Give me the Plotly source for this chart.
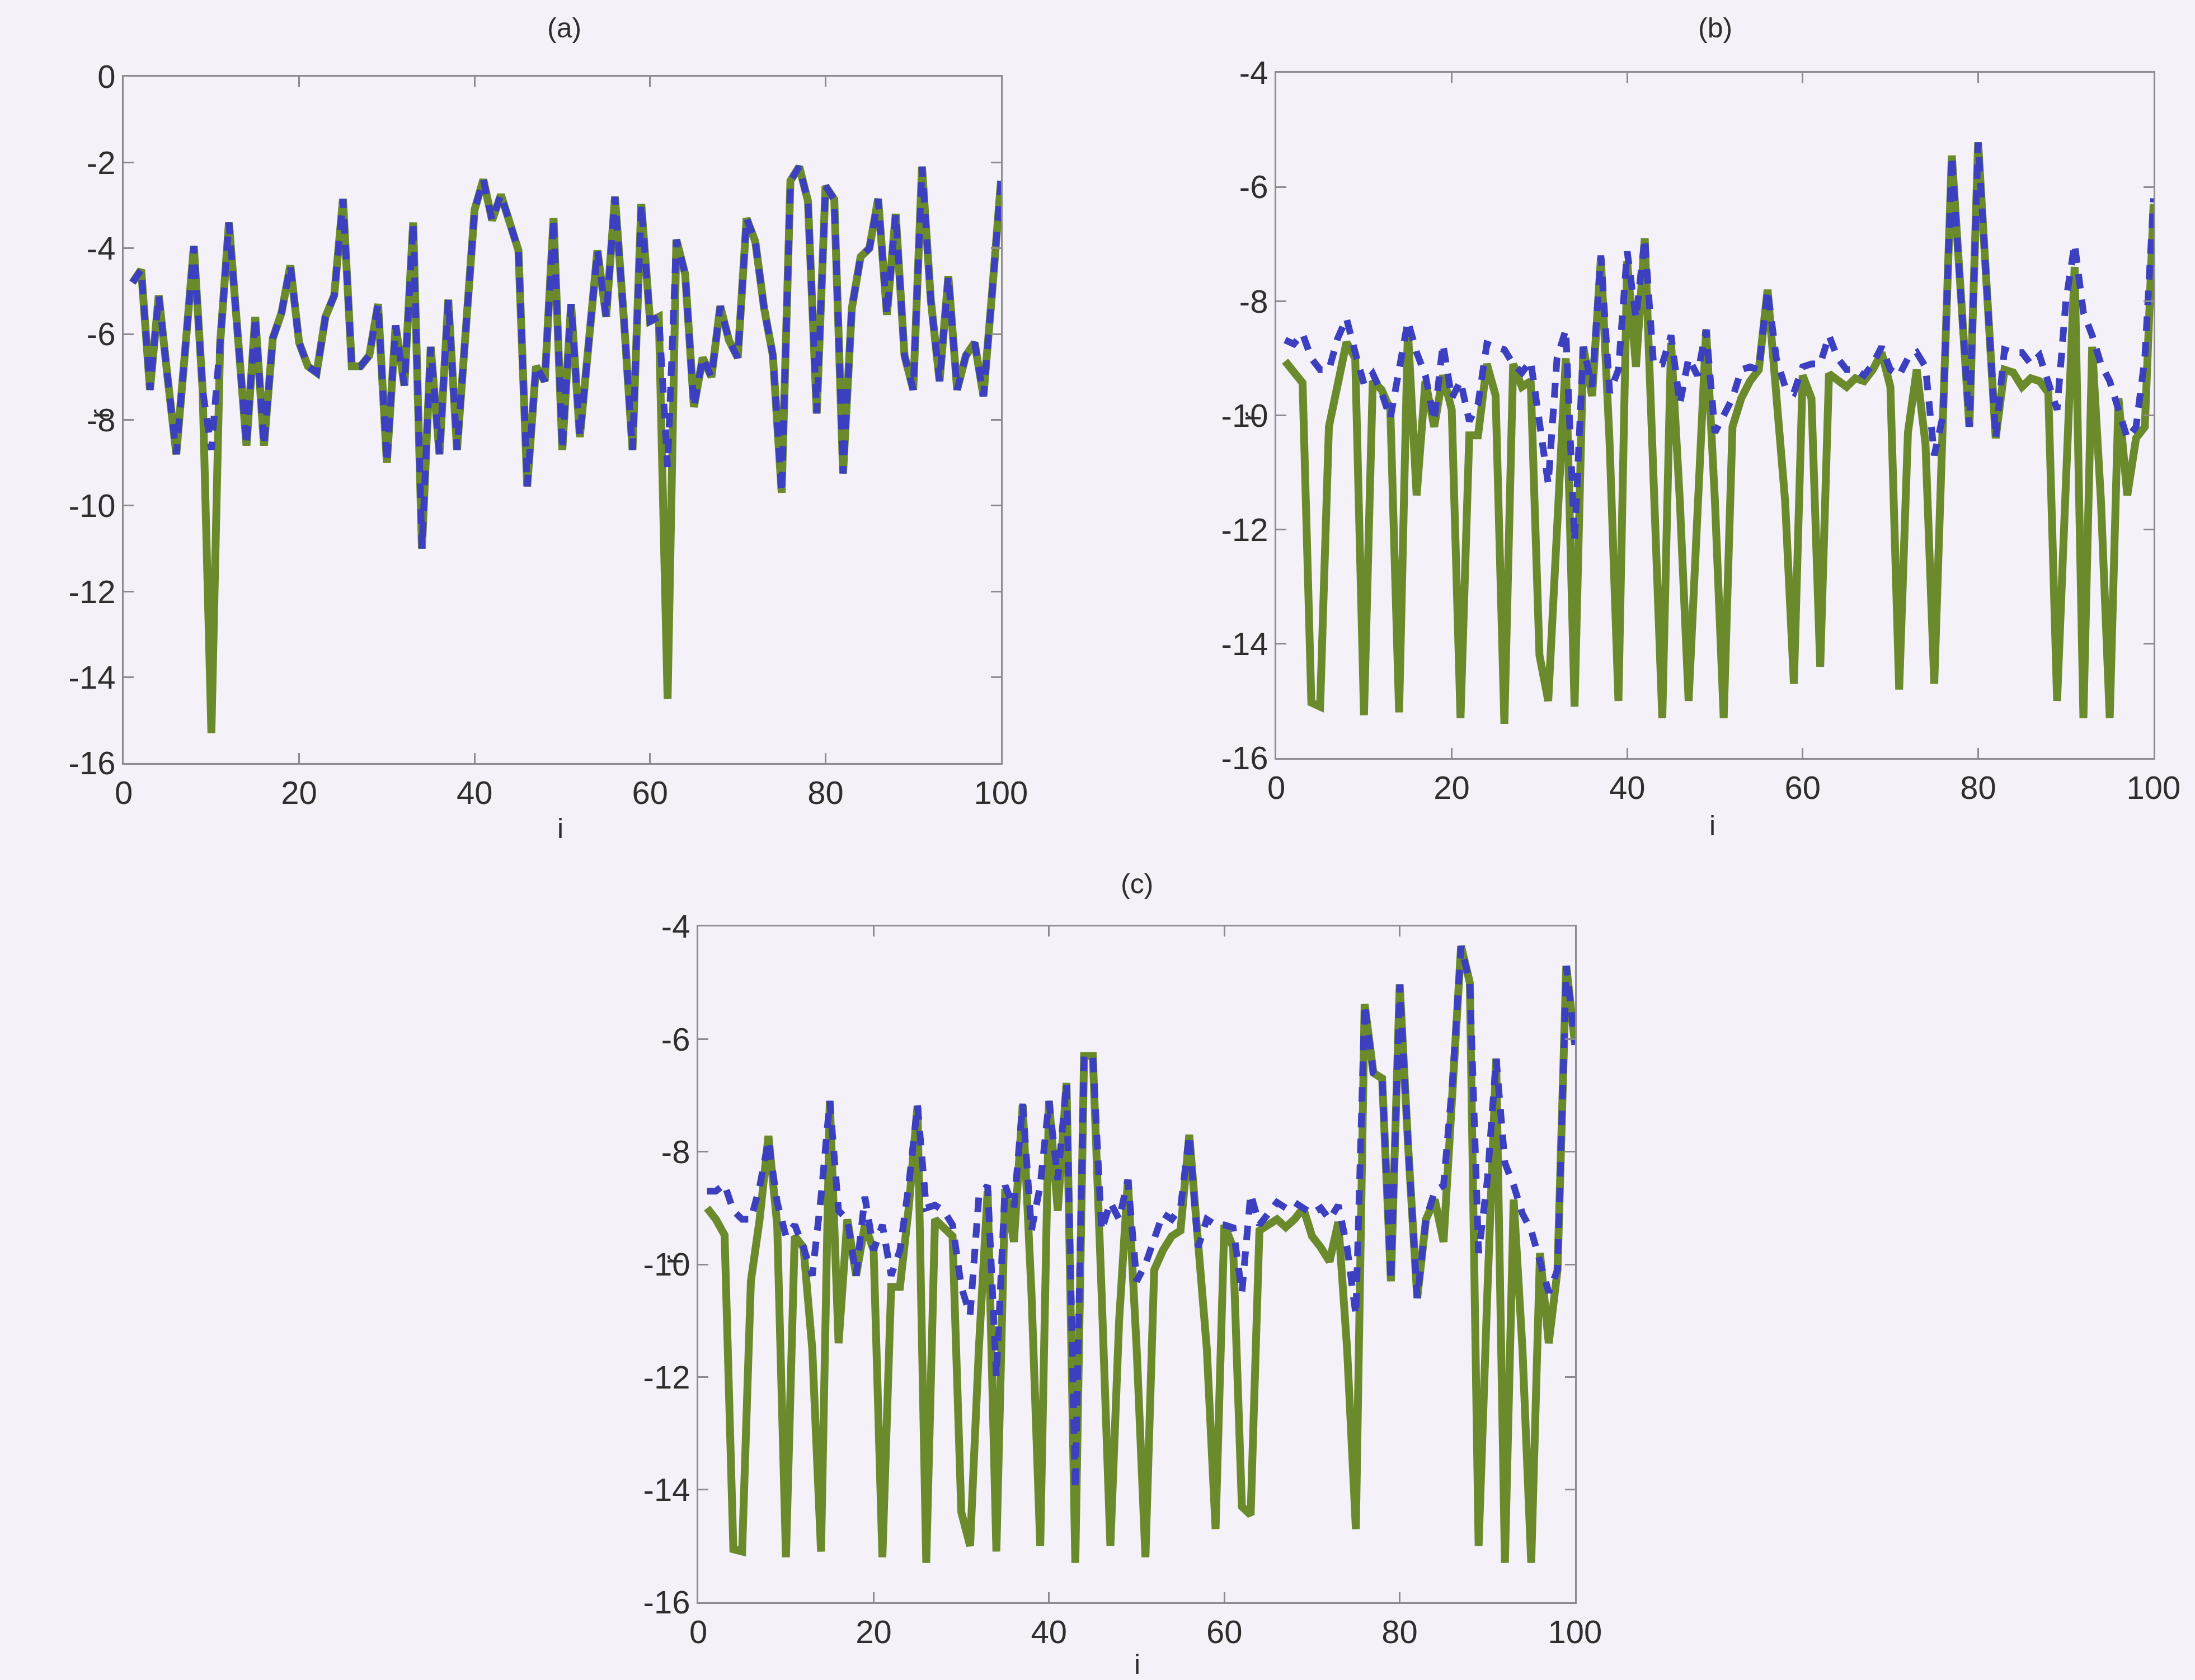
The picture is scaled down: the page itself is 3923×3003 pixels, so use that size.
import plotly.graph_objects as go

# ---------------- data ----------------
idx = list(range(1, 101))

a_green = [-4.8, -4.5, -7.3, -5.1, -7.0, -8.8, -6.4, -3.95, -7.3, -15.3,
           -6.2, -3.4, -6.0, -8.6, -5.6, -8.6, -6.1, -5.5, -4.4, -6.2,
           -6.75, -6.9, -5.6, -5.1, -2.85, -6.75, -6.75, -6.5, -5.3, -9.0,
           -5.8, -7.2, -3.4, -11.0, -6.3, -8.8, -5.2, -8.7, -5.9, -3.1,
           -2.4, -3.35, -2.75, -3.45, -4.05, -9.55, -6.75, -7.1, -3.3, -8.7,
           -5.3, -8.4, -6.05, -4.05, -5.6, -2.8, -5.6, -8.7, -2.97, -5.7,
           -5.6, -14.5, -3.8, -4.6, -7.7, -6.55, -7.0, -5.35, -6.15, -6.55,
           -3.3, -3.85, -5.4, -6.5, -9.7, -2.43, -2.1, -2.9, -7.85, -2.55,
           -2.86, -9.25, -5.4, -4.2, -4.0, -2.85, -5.55, -3.2, -6.5, -7.3,
           -2.1, -5.2, -7.1, -4.65, -7.3, -6.5, -6.2, -7.45, -5.0, -2.43]

a_blue = [-4.8, -4.5, -7.3, -5.1, -7.0, -8.8, -6.4, -3.95, -7.3, -8.7,
          -6.2, -3.4, -6.0, -8.6, -5.6, -8.6, -6.1, -5.5, -4.4, -6.2,
          -6.75, -6.9, -5.6, -5.1, -2.85, -6.75, -6.75, -6.5, -5.3, -9.0,
          -5.8, -7.2, -3.4, -11.0, -6.3, -8.8, -5.2, -8.7, -5.9, -3.1,
          -2.4, -3.35, -2.75, -3.45, -4.05, -9.55, -6.75, -7.1, -3.3, -8.7,
          -5.3, -8.4, -6.05, -4.05, -5.6, -2.8, -5.6, -8.7, -2.97, -5.7,
          -5.6, -9.1, -3.8, -4.6, -7.7, -6.55, -7.0, -5.35, -6.15, -6.55,
          -3.3, -3.85, -5.4, -6.5, -9.7, -2.43, -2.1, -2.9, -7.85, -2.55,
          -2.86, -9.25, -5.4, -4.2, -4.0, -2.85, -5.55, -3.2, -6.5, -7.3,
          -2.1, -5.2, -7.1, -4.65, -7.3, -6.5, -6.2, -7.45, -5.0, -2.43]

b_green = [-9.05, -9.25, -9.43, -15.03, -15.1, -10.2, -9.45, -8.72, -9.0, -15.25,
           -9.4, -9.55, -9.9, -15.2, -8.5, -11.4, -9.4, -10.2, -9.3, -9.9,
           -15.3, -10.35, -10.35, -9.1, -9.65, -15.4, -9.1, -9.5, -9.4, -14.2,
           -15.0, -12.0, -9.0, -15.1, -8.8, -9.66, -7.25, -10.5, -15.0, -7.3,
           -9.15, -6.9, -11.0, -15.3, -8.73, -11.5, -15.0, -11.5, -8.5, -11.5,
           -15.3, -10.2, -9.7, -9.4, -9.2, -7.8, -9.5, -11.5, -14.7, -9.3,
           -9.7, -14.4, -9.27, -9.4, -9.5, -9.35, -9.4, -9.2, -8.9, -9.5,
           -14.8, -10.3, -9.2, -10.5, -14.7, -10.0, -5.45, -7.8, -10.2, -5.22,
           -7.8, -10.4, -9.2, -9.25, -9.5, -9.35, -9.4, -9.6, -15.0, -11.0,
           -7.4, -15.3, -8.8, -11.5, -15.3, -9.7, -11.4, -10.4, -10.2, -6.3]

b_blue = [-8.68, -8.75, -8.57, -9.0, -9.2, -9.2, -8.65, -8.3, -8.9, -9.45,
          -9.27, -9.6, -10.05, -9.2, -8.35, -8.9, -9.3, -10.1, -8.75, -9.7,
          -9.4, -10.1, -9.8, -8.75, -8.8, -8.85, -9.1, -9.25, -9.05, -10.1,
          -11.2, -9.0, -8.5, -12.2, -8.8, -9.5, -7.2, -9.6, -9.2, -7.13,
          -8.3, -6.9, -9.1, -9.1, -8.6, -9.8, -9.0, -9.3, -8.5, -10.3,
          -10.0, -9.7, -9.2, -9.15, -9.2, -7.8, -9.0, -9.5, -9.6, -9.15,
          -9.1, -9.1, -8.6, -9.0, -9.2, -9.2, -9.3, -9.1, -8.8, -9.2,
          -9.3, -9.0, -8.9, -9.15, -10.7, -10.0, -5.45, -7.8, -10.2, -5.22,
          -7.8, -10.4, -8.85, -8.9, -8.9, -9.1, -8.95, -9.4, -9.9, -8.0,
          -7.0, -8.2, -8.6, -9.1, -9.4, -9.9, -10.4, -10.2, -9.0, -6.2]

c_green = [-9.0, -9.2, -9.48, -15.06, -15.1, -10.3, -9.2, -7.72, -9.3, -15.2,
           -9.5, -9.7, -11.5, -15.1, -7.1, -11.4, -9.2, -10.2, -9.3, -9.75,
           -15.2, -10.4, -10.4, -9.0, -7.2, -15.3, -9.2, -9.35, -9.5, -14.4,
           -15.0, -11.5, -8.7, -15.1, -8.66, -9.6, -7.17, -10.5, -15.0, -7.1,
           -9.05, -6.78, -15.3, -6.3, -6.3, -10.5, -15.0, -11.0, -8.5, -11.5,
           -15.2, -10.1, -9.75, -9.5, -9.4, -7.7, -9.5, -11.5, -14.7, -9.3,
           -9.7, -14.3, -14.45, -9.4, -9.3, -9.2, -9.34, -9.2, -9.0, -9.5,
           -9.7, -9.95, -9.25, -11.5, -14.7, -5.38, -6.6, -6.7, -10.3, -5.03,
           -8.0, -10.6, -9.2, -8.85, -9.6, -7.0, -4.35, -5.0, -15.0, -10.5,
           -6.35, -15.3, -8.85, -11.5, -15.3, -9.8, -11.4, -10.1, -4.7, -6.1]

c_blue = [-8.7, -8.7, -8.58, -9.05, -9.2, -9.2, -8.62, -7.8, -8.9, -9.5,
          -9.3, -9.7, -10.2, -8.8, -7.1, -9.05, -9.2, -10.2, -8.8, -9.75,
          -9.3, -10.2, -9.75, -8.6, -7.17, -9.0, -8.95, -9.05, -9.3, -10.4,
          -10.9, -8.8, -8.6, -12.0, -8.6, -9.0, -7.15, -9.4, -8.6, -7.1,
          -8.5, -6.78, -14.0, -6.3, -6.3, -9.4, -8.9, -9.2, -8.5, -10.3,
          -10.0, -9.5, -9.1, -9.2, -9.0, -7.7, -9.7, -9.2, -9.3, -9.3,
          -9.35, -10.5, -8.75, -9.3, -9.1, -8.9, -9.0, -8.9, -9.0, -9.1,
          -9.0, -9.2, -8.95, -9.7, -10.9, -5.38, -6.6, -6.7, -10.3, -5.03,
          -8.0, -10.6, -9.2, -8.7, -8.6, -6.8, -4.35, -5.0, -9.8, -8.5,
          -6.35, -8.2, -8.6, -9.1, -9.4, -9.9, -10.5, -10.1, -4.7, -6.1]

x_tickvals = [0, 20, 40, 60, 80, 100]
x_ticktext = ["0", "20", "40", "60", "80", "100"]
ya_tickvals = [0, -2, -4, -6, -8, -10, -12, -14, -16]
ya_ticktext = ["0", "-2", "-4", "-6", "-8", "-10", "-12", "-14", "-16"]
ybc_tickvals = [-4, -6, -8, -10, -12, -14, -16]
ybc_ticktext = ["-4", "-6", "-8", "-10", "-12", "-14", "-16"]
panel_titles = ["(a)", "(b)", "(c)"]
x_label = "i"
y_label = "r"

# ---------------- style ----------------
W, H = 3923, 3003
GREEN = "#6b8a2c"
BLUE = "#3c3fbf"
BG = "#f4f2f8"
AXC = "#8c8c90"
TXT = "#2e2e2e"
FONT = "Liberation Sans"
TICK_SIZE = 58
TEXT_SIZE = 50

fig = go.Figure()

panels = [
    ("x", "y", a_green, a_blue),
    ("x2", "y2", b_green, b_blue),
    ("x3", "y3", c_green, c_blue),
]
for xa, ya, g, b in panels:
    fig.add_trace(go.Scatter(x=idx, y=g, xaxis=xa, yaxis=ya, mode="lines",
                             line=dict(color=GREEN, width=14), showlegend=False))
    fig.add_trace(go.Scatter(x=idx, y=b, xaxis=xa, yaxis=ya, mode="lines",
                             line=dict(color=BLUE, width=12, dash="26px,20px"),
                             showlegend=False))

# plot-area boxes in pixels (left, right, top, bottom)
boxes = [(221, 1789, 137, 1364), (2281, 3849, 130, 1355), (1248, 2815, 1656, 2864)]


def xdom(l, r):
    return [l / W, r / W]


def ydom(t, b):
    return [1 - b / H, 1 - t / H]


def xaxis_cfg(anchor, dom):
    return dict(domain=dom, anchor=anchor, range=[0, 100], tickmode="array",
                tickvals=x_tickvals, ticktext=x_ticktext, ticks="inside",
                ticklen=18, tickwidth=3, tickcolor=AXC, showline=True,
                linecolor=AXC, linewidth=3, mirror="ticks", showgrid=False,
                zeroline=False, automargin=False,
                tickfont=dict(family=FONT, size=TICK_SIZE, color=TXT))


def yaxis_cfg(anchor, dom, rng, tv, tt):
    return dict(domain=dom, anchor=anchor, range=rng, tickmode="array",
                tickvals=tv, ticktext=tt, ticks="inside", ticklen=18,
                tickwidth=3, tickcolor=AXC, showline=True, linecolor=AXC,
                linewidth=3, mirror="ticks", showgrid=False, zeroline=False,
                automargin=False,
                tickfont=dict(family=FONT, size=TICK_SIZE, color=TXT))


layout = dict(
    width=W, height=H, autosize=False,
    margin=dict(l=0, r=0, t=0, b=0, pad=0, autoexpand=False),
    paper_bgcolor=BG, plot_bgcolor=BG, showlegend=False,
    xaxis=xaxis_cfg("y", xdom(boxes[0][0], boxes[0][1])),
    yaxis=yaxis_cfg("x", ydom(boxes[0][2], boxes[0][3]), [-16, 0], ya_tickvals, ya_ticktext),
    xaxis2=xaxis_cfg("y2", xdom(boxes[1][0], boxes[1][1])),
    yaxis2=yaxis_cfg("x2", ydom(boxes[1][2], boxes[1][3]), [-16, -4], ybc_tickvals, ybc_ticktext),
    xaxis3=xaxis_cfg("y3", xdom(boxes[2][0], boxes[2][1])),
    yaxis3=yaxis_cfg("x3", ydom(boxes[2][2], boxes[2][3]), [-16, -4], ybc_tickvals, ybc_ticktext),
)
fig.update_layout(**layout)

anns = []
title_pos = [(1008, 50), (3065, 50), (2032, 1580)]
xlab_pos = [(1002, 1481), (3060, 1476), (2032, 2975)]
ylab_pos = [(178, 740), (2236, 745), (1203, 2252)]
for k in range(3):
    tx, ty = title_pos[k]
    anns.append(dict(x=tx / W, y=1 - ty / H, xref="paper", yref="paper",
                     text=panel_titles[k], showarrow=False,
                     font=dict(family=FONT, size=TEXT_SIZE, color=TXT),
                     xanchor="center", yanchor="middle"))
    lx, ly = xlab_pos[k]
    anns.append(dict(x=lx / W, y=1 - ly / H, xref="paper", yref="paper",
                     text=x_label, showarrow=False,
                     font=dict(family=FONT, size=TEXT_SIZE, color=TXT),
                     xanchor="center", yanchor="middle"))
    vx, vy = ylab_pos[k]
    anns.append(dict(x=vx / W, y=1 - vy / H, xref="paper", yref="paper",
                     text=y_label, showarrow=False, textangle=-90,
                     font=dict(family=FONT, size=TEXT_SIZE, color=TXT),
                     xanchor="center", yanchor="middle"))
fig.update_layout(annotations=anns)

fig.write_html("out.html")
